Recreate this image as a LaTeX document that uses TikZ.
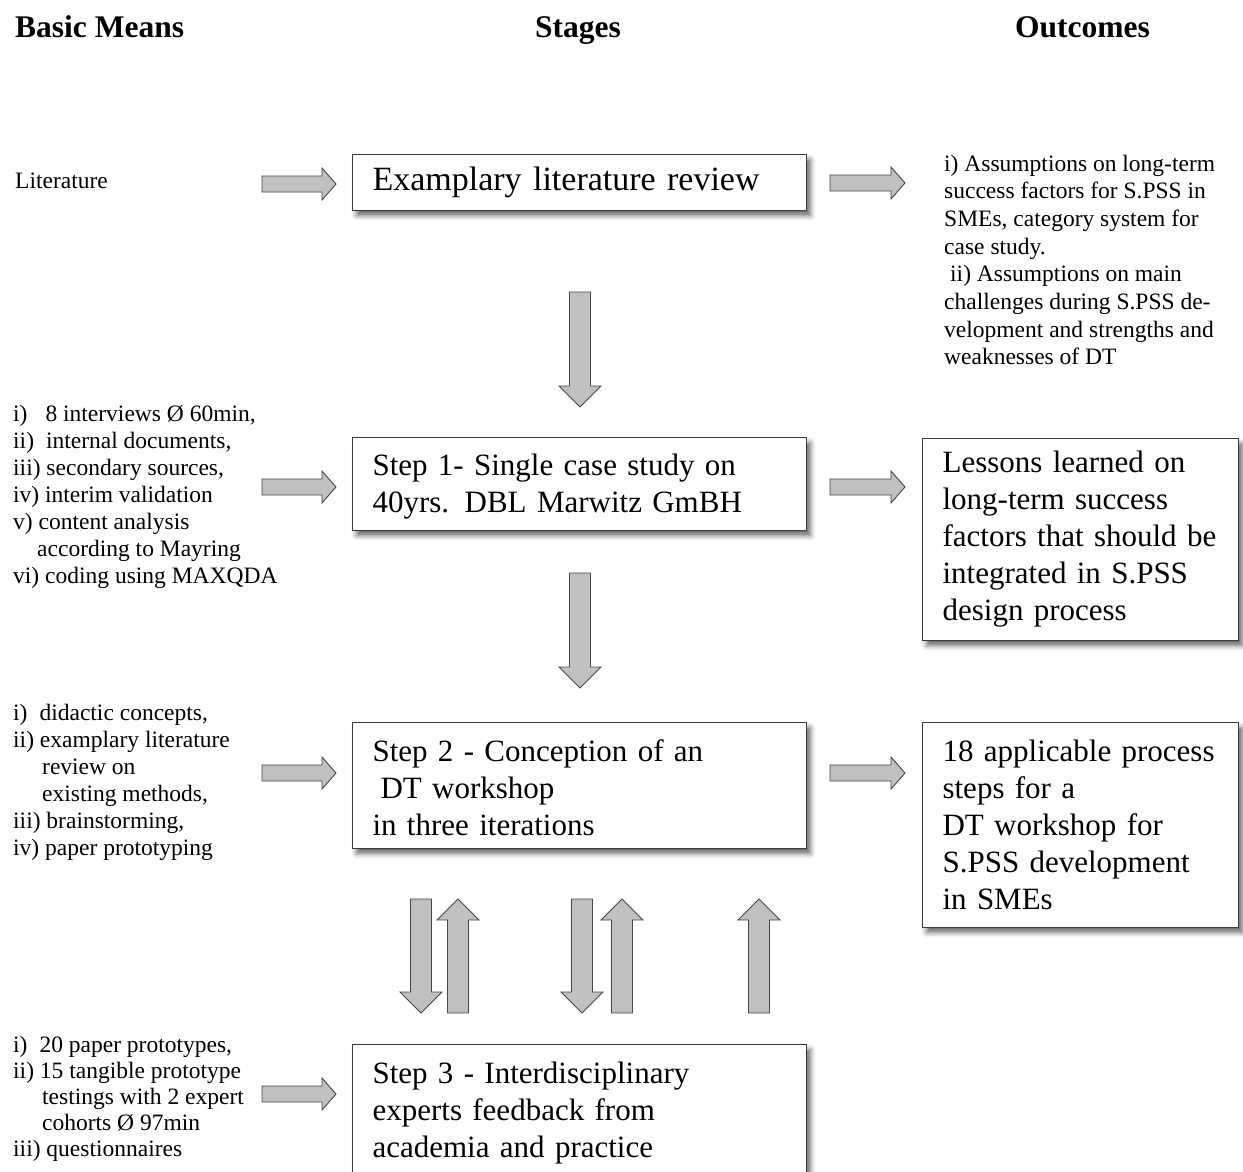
\documentclass[tikz,border=0pt]{standalone}
\usepackage{fontspec}
\setmainfont{Liberation Serif}
\usetikzlibrary{calc,shadows.blur}

\definecolor{arrowfill}{RGB}{192,192,192}
\definecolor{arrowedge}{RGB}{70,70,70}
\definecolor{boxedge}{RGB}{60,60,60}

\tikzset{
  heading/.style={font=\fontsize{31.5}{37}\selectfont\bfseries, inner sep=0pt},
  means/.style={font=\fontsize{23.5}{27}\selectfont, align=left, inner sep=0pt, anchor=west},
  outnote/.style={font=\fontsize{23.5}{27.7}\selectfont, align=left, inner sep=0pt, anchor=west},
  framed/.style={draw=boxedge, line width=1.1pt, fill=white, inner xsep=20pt, align=left,
    font=\fontsize{31}{37}\selectfont, anchor=north west,
    blur shadow={shadow xshift=4pt, shadow yshift=-5pt, shadow blur radius=5pt, shadow opacity=60}},
  stagebox/.style={framed, minimum width=454pt, text width=414pt},
  resultbox/.style={framed, minimum width=316pt, text width=276pt},
  blockarr/.style={draw=arrowedge, line width=0.9pt, fill=arrowfill, line join=miter},
}

% block arrow from a tail coordinate to a tip coordinate:
% #1 tail, #2 tip, #3 shaft half-width, #4 head half-width, #5 head length
\newcommand\blockarrow[5]{%
  \coordinate (ba-h) at ($(#2)!#5!(#1)$);
  \draw[blockarr] ($(#1)!#3!90:(#2)$) -- ($(ba-h)!#3!90:(#2)$) -- ($(ba-h)!#4!90:(#2)$)
    -- (#2) -- ($(ba-h)!#4!-90:(#2)$) -- ($(ba-h)!#3!-90:(#2)$) -- ($(#1)!#3!-90:(#2)$) -- cycle;
}
\newcommand\harrow[2]{\blockarrow{#1}{#2}{8pt}{16pt}{14pt}}
\newcommand\varrow[2]{\blockarrow{#1}{#2}{10.5pt}{21pt}{21pt}}

\begin{document}
\begin{tikzpicture}[x=1pt, y=-1pt]
  \useasboundingbox (0,0) rectangle (1243,1171);
  \clip (0,0) rectangle (1243,1171);

  % column headings
  \node[heading, anchor=base west] (hmeans) at (15,37) {Basic Means};
  \node[heading, anchor=base] (hstages) at (578,37) {Stages};
  \node[heading, anchor=base west] (houtcomes) at (1015,37) {Outcomes};

  % stages
  \node[stagebox, minimum height=56pt, font=\fontsize{34}{40}\selectfont] (review) at (352,154)
    {Examplary literature review};
  \node[stagebox, minimum height=93pt, text height=27pt] (step1) at (352,437)
    {Step 1- Single case study on\\40yrs. DBL Marwitz GmBH};
  \node[stagebox, minimum height=126pt, text height=27pt] (step2) at (352,722)
    {Step 2 - Conception of an\\\hspace*{8pt}DT workshop\\in three iterations};
  \node[stagebox, inner ysep=17pt] (step3) at (352,1044)
    {Step 3 - Interdisciplinary\\experts feedback from\\academia and practice};

  % basic means
  \node[means] (lit) at (15,181) {Literature};
  \node[means] (m1) at (13,497)
    {i)\hspace{18pt}8 interviews Ø 60min,\\
     ii)\hspace{12pt}internal documents,\\
     iii) secondary sources,\\
     iv) interim validation\\
     v) content analysis\\
     \hspace*{24pt}according to Mayring\\
     vi) coding using MAXQDA};
  \node[means] (m2) at (13,782)
    {i)\hspace{12pt}didactic concepts,\\
     ii) examplary literature\\
     \hspace*{29pt}review on\\
     \hspace*{29pt}existing methods,\\
     iii) brainstorming,\\
     iv) paper prototyping};
  \node[means, font=\fontsize{23.5}{26}\selectfont] (m3) at (13,1099)
    {i)\hspace{12pt}20 paper prototypes,\\
     ii) 15 tangible prototype\\
     \hspace*{29pt}testings with 2 expert\\
     \hspace*{29pt}cohorts Ø 97min\\
     iii) questionnaires};

  % outcomes
  \node[outnote] (o0) at (944,260)
    {i) Assumptions on long-term\\
     success factors for S.PSS in\\
     SMEs, category system for\\
     case study.\\
     \hspace*{6pt}ii) Assumptions on main\\
     challenges during S.PSS de-\\
     velopment and strengths and\\
     weaknesses of DT};
  \node[resultbox, minimum height=202pt] (o1) at (922,438)
    {Lessons learned on\\long-term success\\factors that should be\\integrated in S.PSS\\design process};
  \node[resultbox, minimum height=205pt] (o2) at (922,722)
    {18 applicable process\\steps for a\\DT workshop for\\S.PSS development\\in SMEs};

  % arrow end points
  \coordinate (litT) at (262,184);   \coordinate (litH) at (336,184);
  \coordinate (m1T) at (262,487);    \coordinate (m1H) at (336,487);
  \coordinate (m2T) at (262,773);    \coordinate (m2H) at (336,773);
  \coordinate (m3T) at (262,1094);   \coordinate (m3H) at (336,1094);
  \coordinate (o0T) at (830,183);    \coordinate (o0H) at (905,183);
  \coordinate (o1T) at (830,487);    \coordinate (o1H) at (905,487);
  \coordinate (o2T) at (830,773);    \coordinate (o2H) at (905,773);
  \coordinate (d1T) at (580,292);    \coordinate (d1H) at (580,407);
  \coordinate (d2T) at (580,573);    \coordinate (d2H) at (580,688);
  \coordinate (f1T) at (421,899);    \coordinate (f1H) at (421,1013);
  \coordinate (f2T) at (458,1013);   \coordinate (f2H) at (458,899);
  \coordinate (f3T) at (582,899);    \coordinate (f3H) at (582,1013);
  \coordinate (f4T) at (622,1013);   \coordinate (f4H) at (622,899);
  \coordinate (f5T) at (759,1013);   \coordinate (f5H) at (759,899);

  % inputs into the stages
  \harrow{litT}{litH}
  \harrow{m1T}{m1H}
  \harrow{m2T}{m2H}
  \harrow{m3T}{m3H}
  % stages to outcomes
  \harrow{o0T}{o0H}
  \harrow{o1T}{o1H}
  \harrow{o2T}{o2H}
  % flow between stages
  \varrow{d1T}{d1H}
  \varrow{d2T}{d2H}
  % iterations between step 2 and step 3
  \varrow{f1T}{f1H}
  \varrow{f2T}{f2H}
  \varrow{f3T}{f3H}
  \varrow{f4T}{f4H}
  \varrow{f5T}{f5H}
\end{tikzpicture}
\end{document}
